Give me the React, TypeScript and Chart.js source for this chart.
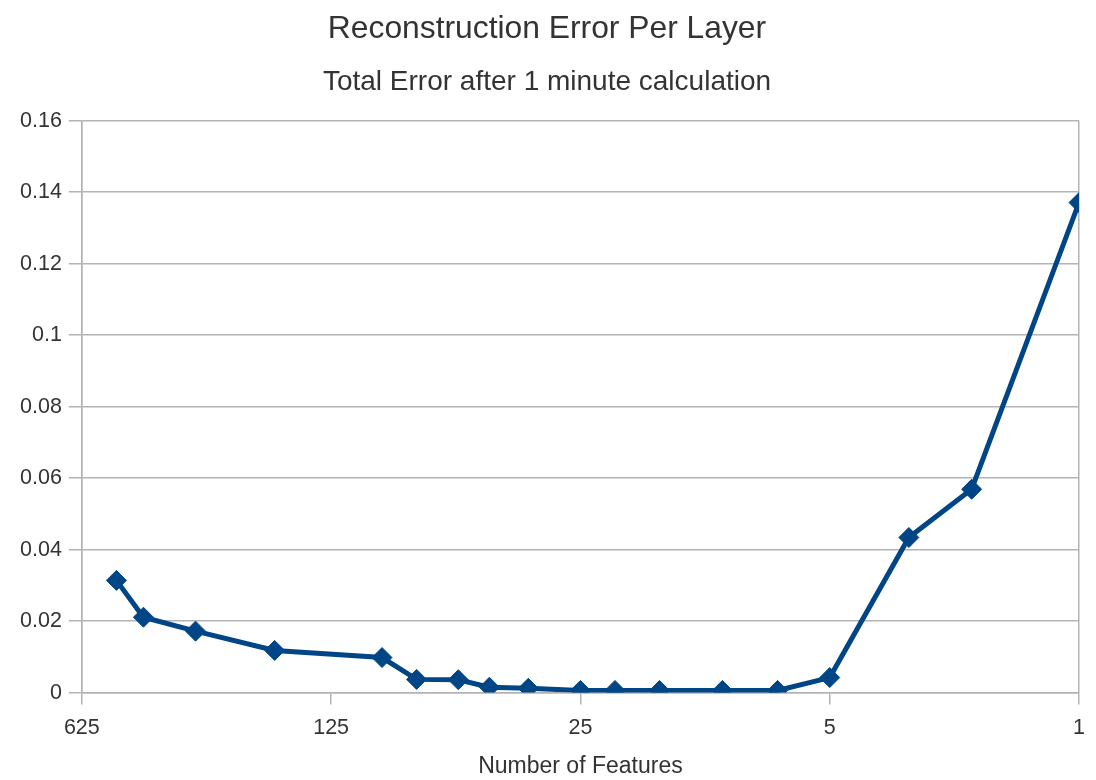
import React, { useEffect, useRef } from "react";
import { Chart, registerables } from "chart.js";

Chart.register(...registerables);

const FEATURES = [500, 420, 300, 180, 90, 72, 55, 45, 35, 25, 20, 15, 10, 7, 5, 3, 2, 1];
const ERRORS = [0.0314, 0.0211, 0.0172, 0.0118, 0.0098, 0.0037, 0.0036, 0.0015, 0.0012, 0.0006, 0.0006, 0.0006, 0.0006, 0.0006, 0.0042, 0.0434, 0.0569, 0.1371];
const X_TICKS = [625, 125, 25, 5, 1];
const Y_TICKS = [0, 0.02, 0.04, 0.06, 0.08, 0.1, 0.12, 0.14, 0.16];

const TITLE = "Reconstruction Error Per Layer";
const SUBTITLE = "Total Error after 1 minute calculation";
const X_TITLE = "Number of Features";

export default function App() {
  const ref = useRef<HTMLCanvasElement | null>(null);

  useEffect(() => {
    if (!ref.current) return;
    const grey = "#b3b3b3";
    const text = "#333333";
    const font = "'Liberation Sans', Arial, sans-serif";
    const chart = new Chart(ref.current, {
      type: "line",
      data: {
        datasets: [
          {
            data: FEATURES.map((f, i) => ({ x: f, y: ERRORS[i] })),
            borderColor: "#004586",
            backgroundColor: "#004586",
            borderWidth: 5,
            pointStyle: "rectRot",
            pointRadius: 10,
            pointBorderWidth: 1,
            tension: 0,
          },
        ],
      },
      options: {
        animation: false,
        responsive: true,
        maintainAspectRatio: false,
        layout: { padding: { left: 13, right: 15, top: 0, bottom: 0 } },
        plugins: {
          legend: { display: false },
          tooltip: { enabled: false },
          title: {
            display: true,
            text: TITLE,
            color: text,
            font: { family: font, size: 31.8, weight: "normal" },
            padding: { top: 10.5, bottom: 16.5 },
          },
          subtitle: {
            display: true,
            text: SUBTITLE,
            color: text,
            font: { family: font, size: 28, weight: "normal" },
            padding: { top: 0, bottom: 22 },
          },
        },
        scales: {
          x: {
            type: "logarithmic",
            reverse: true,
            min: 1,
            max: 625,
            afterBuildTicks: (scale: any) => {
              scale.ticks = X_TICKS.map((v) => ({ value: v }));
            },
            ticks: {
              autoSkip: false,
              maxRotation: 0,
              color: text,
              font: { family: font, size: 21.5 },
              padding: 11,
              callback: (v: any) => String(v),
            },
            grid: {
              color: (ctx: any) =>
                ctx.tick && (ctx.tick.value === 1 || ctx.tick.value === 625) ? grey : "transparent",
              tickColor: grey,
              tickLength: 12,
              lineWidth: 1.5,
            },
            border: { display: true, color: grey, width: 1.5 },
            title: {
              display: true,
              text: X_TITLE,
              color: text,
              font: { family: font, size: 23 },
              padding: { top: 0, bottom: 0 },
            },
          },
          y: {
            min: 0,
            max: 0.16,
            afterBuildTicks: (scale: any) => {
              scale.ticks = Y_TICKS.map((v) => ({ value: v }));
            },
            ticks: {
              color: text,
              font: { family: font, size: 21.5 },
              padding: 7,
              callback: (v: any) => String(Math.round(Number(v) * 100) / 100),
            },
            grid: {
              color: grey,
              tickColor: grey,
              tickLength: 13,
              lineWidth: 1.5,
            },
            border: { display: true, color: grey, width: 1.5 },
          },
        },
      },
    });
    return () => chart.destroy();
  }, []);

  return (
    <div style={{ position: "fixed", left: 0, top: 0, width: 1096, height: 780, background: "#fff" }}>
      <canvas ref={ref} />
    </div>
  );
}
